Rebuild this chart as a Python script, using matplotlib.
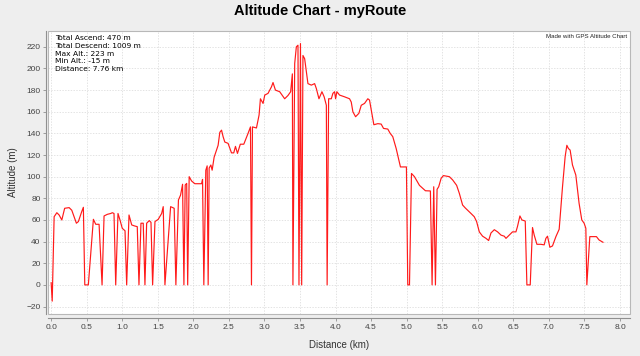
import numpy as np
import matplotlib
matplotlib.use('Agg')
import matplotlib.pyplot as plt
from matplotlib.patches import Rectangle

# route profile (km, m)
distance_km = [0.0, 0.015, 0.042, 0.063, 0.08, 0.112, 0.15, 0.19, 0.253, 0.29, 0.355, 0.383, 0.43, 0.453,
               0.473, 0.523, 0.594, 0.627, 0.674, 0.716, 0.744, 0.79, 0.838, 0.86, 0.884, 0.908, 0.94,
               0.968, 1.0, 1.039, 1.062, 1.095, 1.133, 1.172, 1.211, 1.235, 1.263, 1.295, 1.319, 1.343,
               1.38, 1.404, 1.427, 1.46, 1.506, 1.554, 1.576, 1.6, 1.68, 1.73, 1.754, 1.79, 1.82, 1.848,
               1.867, 1.885, 1.906, 1.92, 1.941, 1.975, 2.021, 2.115, 2.129, 2.147, 2.175, 2.194, 2.208,
               2.222, 2.246, 2.264, 2.292, 2.323, 2.348, 2.372, 2.396, 2.418, 2.442, 2.488, 2.536, 2.568,
               2.592, 2.62, 2.66, 2.709, 2.769, 2.803, 2.817, 2.831, 2.887, 2.924, 2.943, 2.98, 3.004,
               3.05, 3.098, 3.12, 3.154, 3.214, 3.284, 3.33, 3.368, 3.392, 3.40, 3.425, 3.448, 3.471,
               3.485, 3.506, 3.523, 3.541, 3.565, 3.611, 3.659, 3.705, 3.729, 3.766, 3.808, 3.839, 3.87,
               3.881, 3.902, 3.94, 3.962, 3.986, 4.0, 4.018, 4.056, 4.126, 4.196, 4.22, 4.243, 4.281,
               4.327, 4.361, 4.407, 4.453, 4.477, 4.538, 4.594, 4.641, 4.674, 4.734, 4.768, 4.804, 4.852,
               4.884, 4.912, 4.968, 4.996, 5.015, 5.039, 5.067, 5.109, 5.179, 5.263, 5.333, 5.357, 5.38,
               5.404, 5.427, 5.45, 5.484, 5.516, 5.6, 5.646, 5.702, 5.74, 5.786, 5.825, 5.857, 5.904,
               5.95, 5.983, 6.021, 6.067, 6.115, 6.152, 6.185, 6.232, 6.278, 6.326, 6.372, 6.396, 6.442,
               6.488, 6.536, 6.558, 6.592, 6.62, 6.667, 6.69, 6.737, 6.769, 6.793, 6.831, 6.887, 6.933,
               6.957, 6.98, 7.013, 7.05, 7.098, 7.144, 7.191, 7.228, 7.252, 7.274, 7.298, 7.331, 7.378,
               7.424, 7.462, 7.495, 7.519, 7.533, 7.575, 7.668, 7.705, 7.76]
altitude_m = [2, -15, 63, 65, 66.7, 64.6, 60, 70.8, 71.4, 69, 57, 58.5, 67.7, 71.7,
              0, 0, 60.6, 56, 56, 0, 63.7, 65.2, 66, 66.7, 66, 0, 66,
              60, 52.3, 50, 0, 64.6, 55.4, 54.5, 53.8, 0, 57, 57, 0, 57,
              59.4, 57.8, 0, 58.5, 60.6, 66, 72.3, 0, 72.3, 70.8, 0, 78.5, 83, 93,
              0, 92.3, 93.8, 0, 100, 96, 93.5, 93.5, 97.5, 0, 106, 110, 0,
              108, 110.8, 106, 118, 124, 129, 141, 143, 137, 132, 130.8, 122, 122,
              128, 121.5, 130, 130, 140, 146, 0, 146, 145, 157, 172, 167.7, 175.4,
              177, 183, 187, 180, 178.5, 172, 175, 178.5, 195, 0, 204.6, 220, 221.5,
              0, 223, 0, 212, 209, 186, 184.6, 186, 181.5, 172, 178.5, 173.8, 166,
              0, 172, 172, 177, 178.5, 172, 178.5, 175.4, 173.8, 172, 169, 160, 155.4,
              158.5, 166, 167.7, 172, 170.8, 148, 149, 148.6, 144.6, 144, 140, 137, 126,
              117, 109, 109, 109, 0, 0, 103, 100, 92, 87, 86.8, 0, 90.7,
              0, 88.3, 90.7, 98.5, 101, 100, 97, 92, 84.6, 73.8, 71, 69, 66,
              63, 58.5, 49, 45, 43, 41, 48, 51, 49, 46, 45, 43, 46,
              49, 49, 54, 63.7, 60, 59, 0, 0, 53, 46, 37.5, 37.5, 37,
              43, 45, 34.8, 36, 44.6, 51.4, 90.7, 118.5, 129, 126, 124.6, 110.8, 101.5,
              75.4, 60, 57, 52.3, 0, 44.6, 44.6, 41.5, 39.4]

stats_lines = ['Total Ascend: 470 m', 'Total Descend: 1009 m', 'Max Alt.: 223 m',
               'Min Alt.: -15 m', 'Distance: 7.76 km']
x_ticks = np.arange(0, 8.01, 0.5)
y_ticks = np.arange(-20, 221, 20)

W, H = 640, 356
fig = plt.figure(figsize=(W / 100, H / 100), dpi=100, facecolor='#eeeeee')
ax = fig.add_axes([48.3 / W, 1 - 314 / H, (630 - 48.3) / W, (314 - 30.7) / H])
ax.set_facecolor('white')

ax.plot(distance_km, altitude_m, color='#ff1a1a', lw=0.85, zorder=3)

ax.set_xlim(-0.04, 8.14)
ax.set_ylim(-26.9, 234.9)
ax.set_xticks(x_ticks)
ax.set_xticklabels(['%.1f' % v for v in x_ticks])
ax.set_yticks(y_ticks)

ax.grid(color='#d8d8d8', ls=(0, (2, 2)), lw=0.5)
ax.set_axisbelow(True)

for s in ['top', 'right']:
    ax.spines[s].set_visible(False)
ax.spines['left'].set_position(('outward', 2))
ax.spines['bottom'].set_position(('outward', 3))
for s in ['left', 'bottom']:
    ax.spines[s].set_color('#909090')
    ax.spines[s].set_linewidth(0.8)
ax.add_patch(Rectangle((0, 0), 1, 1, transform=ax.transAxes, fill=False,
                       ec='#b8b8b8', lw=0.8, clip_on=False, zorder=4))

ax.tick_params(direction='out', length=2, width=0.6, color='#909090',
               labelsize=6, labelcolor='#444444', pad=1.5)
ax.tick_params(axis='x', pad=2.5)
for lab in ax.get_xticklabels() + ax.get_yticklabels():
    lab.set_family('Liberation Sans')

ax.set_xlabel('Distance (km)', fontsize=7, family='Liberation Sans', color='#333333', labelpad=6)
ax.set_ylabel('Altitude (m)', fontsize=7, family='Liberation Sans', color='#333333', labelpad=6)

fig.text(0.5, 1 - 15 / H, 'Altitude Chart - myRoute', ha='center', va='baseline',
         fontsize=10.5, fontweight='bold', family='Liberation Sans')

for i, line in enumerate(stats_lines):
    fig.text(55 / W, 1 - (38.5 + 7.6 * i) / H, line, ha='left', va='center',
             fontsize=5.4, family='DejaVu Sans', color='black')

fig.text(627 / W, 1 - 36.7 / H, 'Made with GPS Altitude Chart', ha='right', va='center',
         fontsize=4.4, family='Liberation Sans', color='#222222')

fig.savefig('out.png', dpi=100, facecolor=fig.get_facecolor())
